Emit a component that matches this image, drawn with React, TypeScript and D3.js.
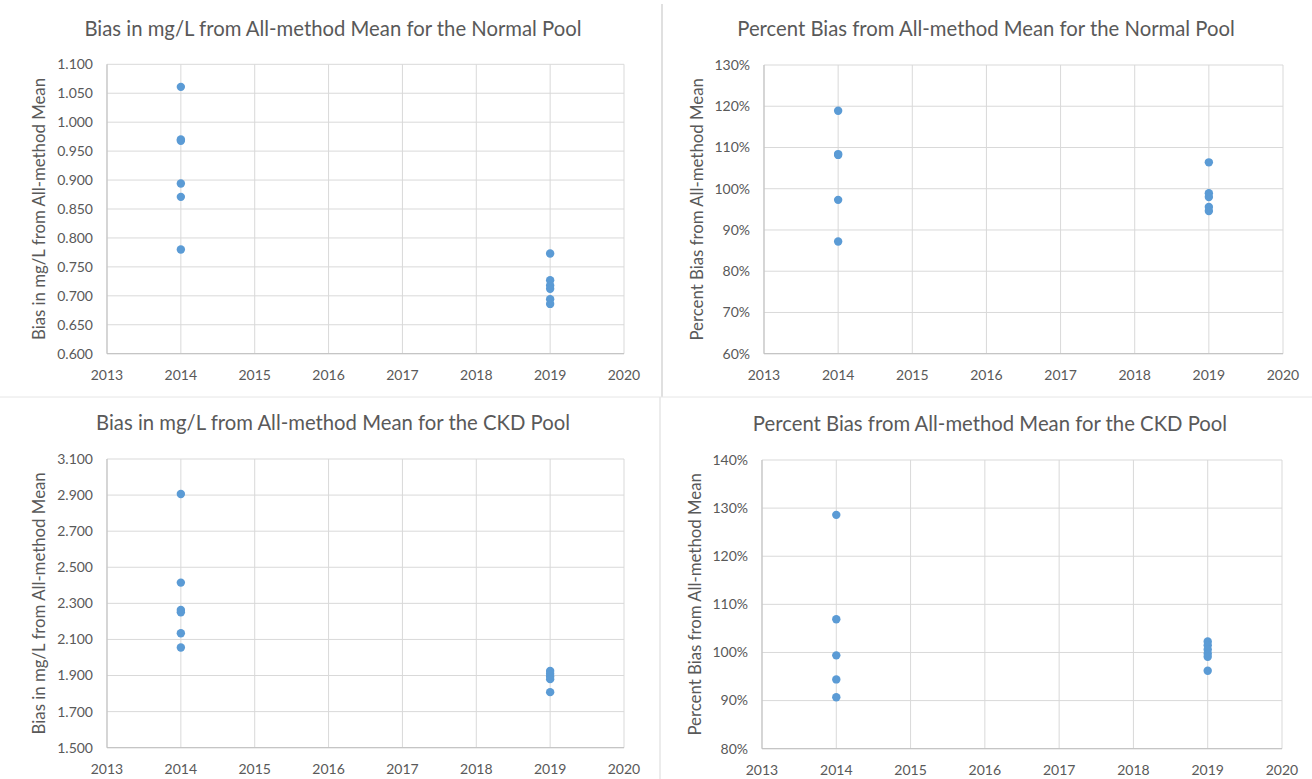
import React from 'react';
import * as d3 from 'd3';

// values
const years = [2013, 2014, 2015, 2016, 2017, 2018, 2019, 2020];

const normalMg2014 = [1.061, 0.970, 0.968, 0.894, 0.871, 0.780];
const normalMg2019 = [0.773, 0.727, 0.718, 0.712, 0.694, 0.686];
const normalPct2014 = [118.9, 108.4, 108.2, 97.3, 87.2];
const normalPct2019 = [106.4, 98.9, 98.0, 95.6, 94.6];
const ckdMg2014 = [2.906, 2.415, 2.263, 2.251, 2.134, 2.055];
const ckdMg2019 = [1.925, 1.910, 1.895, 1.880, 1.808];
const ckdPct2014 = [128.6, 106.9, 99.4, 94.4, 90.7];
const ckdPct2019 = [102.3, 101.5, 100.6, 99.8, 99.1, 96.2];

const mgTicksNormal = d3.range(0.6, 1.1001, 0.05);
const pctTicksNormal = d3.range(60, 131, 10);
const mgTicksCkd = d3.range(1.5, 3.1001, 0.2);
const pctTicksCkd = d3.range(80, 141, 10);

const FONT = 'Lato, "Open Sans", sans-serif';
const TEXT = '#595959';
const GRID = '#d9d9d9';
const DOT = '#5b9bd5';

type PanelProps = {
  title: string;
  yLabel: string;
  titleX: number;
  titleY: number;
  left: number;
  right: number;
  top: number;
  bottom: number;
  yDomain: [number, number];
  yTicks: number[];
  fmt: (v: number) => string;
  pts2014: number[];
  pts2019: number[];
  yLabelX: number;
};

const Panel = (p: PanelProps) => {
  const x = d3.scaleLinear().domain([2013, 2020]).range([p.left, p.right]);
  const y = d3.scaleLinear().domain(p.yDomain).range([p.bottom, p.top]);
  const pts = [
    ...p.pts2014.map(v => ({ yr: 2014, v })),
    ...p.pts2019.map(v => ({ yr: 2019, v })),
  ];
  return (
    <g>
      <text x={p.titleX} y={p.titleY} textAnchor="middle" fontSize={20.3} fill={TEXT} fontFamily={FONT}>
        {p.title}
      </text>
      {p.yTicks.map((t, i) => (
        <line key={'h' + i} x1={p.left} x2={p.right} y1={y(t)} y2={y(t)} stroke={GRID} strokeWidth={1} />
      ))}
      {years.map(yr => (
        <line key={'v' + yr} x1={x(yr)} x2={x(yr)} y1={p.top} y2={p.bottom} stroke={GRID} strokeWidth={1} />
      ))}
      <line x1={p.left} x2={p.right} y1={p.bottom} y2={p.bottom} stroke="#bfbfbf" strokeWidth={1} />
      <line x1={p.left} x2={p.left} y1={p.top} y2={p.bottom} stroke="#bfbfbf" strokeWidth={1} />
      {p.yTicks.map((t, i) => (
        <text key={'yt' + i} x={p.left - 14} y={y(t)} dy="0.35em" textAnchor="end" fontSize={14} fill={TEXT} fontFamily={FONT}>
          {p.fmt(t)}
        </text>
      ))}
      {years.map(yr => (
        <text key={'xt' + yr} x={x(yr)} y={p.bottom + 21} dy="0.35em" textAnchor="middle" fontSize={14} fill={TEXT} fontFamily={FONT}>
          {yr}
        </text>
      ))}
      <text
        transform={`translate(${p.yLabelX},${(p.top + p.bottom) / 2}) rotate(-90)`}
        textAnchor="middle"
        dy="0.35em"
        fontSize={16.8}
        fill={TEXT}
        fontFamily={FONT}
      >
        {p.yLabel}
      </text>
      {pts.map((d, i) => (
        <circle key={'p' + i} cx={x(d.yr)} cy={y(d.v)} r={4.2} fill={DOT} />
      ))}
    </g>
  );
};

const App = () => {
  const mgFmt = d3.format('.3f');
  const pctFmt = (v: number) => `${Math.round(v)}%`;
  return (
    <svg
      width={1312}
      height={779}
      style={{ position: 'absolute', left: 0, top: 0, background: '#fff' }}
    >
      <rect width={1312} height={779} fill="#fff" />
      <line x1={662} x2={662} y1={4} y2={397} stroke="#e0e0e0" strokeWidth={2} />
      <line x1={0} x2={1312} y1={397} y2={397} stroke="#e6e6e6" strokeWidth={1} />
      <line x1={660} x2={660} y1={397} y2={779} stroke="#e6e6e6" strokeWidth={1.5} />
      <Panel
        title="Bias in mg/L from All-method Mean for the Normal Pool"
        yLabel="Bias in mg/L from All-method Mean"
        titleX={333}
        titleY={36}
        left={107}
        right={624}
        top={64.3}
        bottom={353.7}
        yDomain={[0.6, 1.1]}
        yTicks={mgTicksNormal}
        fmt={mgFmt}
        pts2014={normalMg2014}
        pts2019={normalMg2019}
        yLabelX={39}
      />
      <Panel
        title="Percent Bias from All-method Mean for the Normal Pool"
        yLabel="Percent Bias from All-method Mean"
        titleX={986}
        titleY={36}
        left={764}
        right={1283}
        top={65}
        bottom={353.7}
        yDomain={[60, 130]}
        yTicks={pctTicksNormal}
        fmt={pctFmt}
        pts2014={normalPct2014}
        pts2019={normalPct2019}
        yLabelX={697}
      />
      <Panel
        title="Bias in mg/L from All-method Mean for the CKD Pool"
        yLabel="Bias in mg/L from All-method Mean"
        titleX={333}
        titleY={430}
        left={107}
        right={624}
        top={459}
        bottom={747.7}
        yDomain={[1.5, 3.1]}
        yTicks={mgTicksCkd}
        fmt={mgFmt}
        pts2014={ckdMg2014}
        pts2019={ckdMg2019}
        yLabelX={39}
      />
      <Panel
        title="Percent Bias from All-method Mean for the CKD Pool"
        yLabel="Percent Bias from All-method Mean"
        titleX={990}
        titleY={431}
        left={762}
        right={1282}
        top={460}
        bottom={748.7}
        yDomain={[80, 140]}
        yTicks={pctTicksCkd}
        fmt={pctFmt}
        pts2014={ckdPct2014}
        pts2019={ckdPct2019}
        yLabelX={695}
      />
    </svg>
  );
};

export default App;
